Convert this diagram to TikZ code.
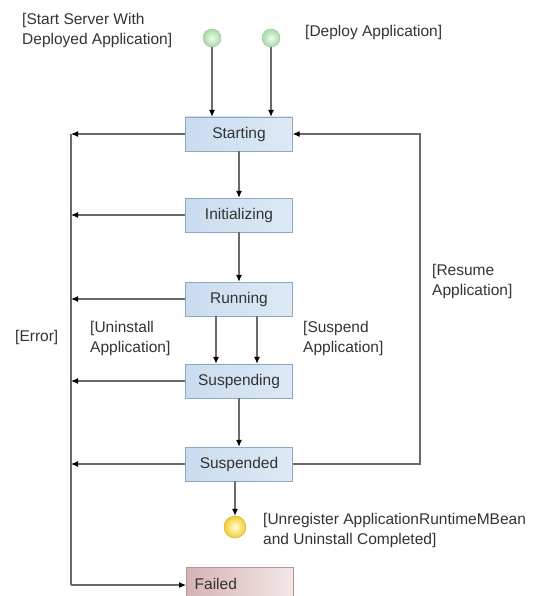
\documentclass[tikz,border=0pt]{standalone}
\usepackage{fontspec}
\setmainfont{Liberation Sans}
\usetikzlibrary{arrows.meta}

\tikzset{
  state/.style={draw=boxBorder, left color=boxLeft, right color=boxRight, text=textGrey,
    minimum width=107pt, minimum height=34pt, inner sep=0pt, font=\fontsize{15.5}{18}\selectfont},
  failstate/.style={state, draw=failBorder, left color=failLeft, right color=failRight, align=left, text width=90pt},
  startdot/.style={circle, minimum size=18pt, inner sep=0pt, draw=dotGreenEdge, inner color=green!8, outer color=dotGreen},
  enddot/.style={circle, minimum size=22pt, inner sep=0pt, draw=dotYellowEdge, inner color=yellow!15, outer color=dotYellow},
  flow/.style={draw=lineGrey, line width=1.1pt, -{Latex[length=7pt,width=6pt,black]}},
  guard/.style={align=left, font=\fontsize{15.5}{20}\selectfont, text=textGrey, inner sep=0pt, anchor=base west}
}

\begin{document}
\begin{tikzpicture}[x=1pt, y=-1pt]
    % Define colours
    \definecolor{boxBorder}{HTML}{8FA8C2}
    \definecolor{boxLeft}{HTML}{C9DCEF}
    \definecolor{boxRight}{HTML}{DDE9F5}
    \definecolor{failBorder}{HTML}{B89496}
    \definecolor{failLeft}{HTML}{D6B3B5}
    \definecolor{failRight}{HTML}{F3E8E8}
    \definecolor{dotGreen}{HTML}{A9D8A9}
    \definecolor{dotGreenEdge}{HTML}{9CC29C}
    \definecolor{dotYellow}{HTML}{F2CC2E}
    \definecolor{dotYellowEdge}{HTML}{C9A62A}
    \definecolor{lineGrey}{HTML}{6A6A6A}
    \definecolor{textGrey}{HTML}{333333}

    % Define x positions of the side lines
    \def\errorX{71}
    \def\resumeX{420}

    \useasboundingbox (0,0) rectangle (537,596);

    % Draw states
    \node[state] (starting) at (239,134) {Starting};
    \node[state] (initializing) at (239,215) {Initializing};
    \node[state] (running) at (239,299) {Running};
    \node[state] (suspending) at (239,381) {Suspending};
    \node[state] (suspended) at (239,464) {Suspended};
    \node[failstate, anchor=north west] (failed) at (186,567) {Failed};

    % Draw start and end points
    \node[startdot] (deployedstart) at (212,38) {};
    \node[startdot] (deploystart) at (271,38) {};
    \node[enddot] (uninstalled) at (235,527) {};

    % Draw main flow
    \draw[flow] (deployedstart) -- (deployedstart |- starting.north);
    \draw[flow] (deploystart) -- (deploystart |- starting.north);
    \draw[flow] (starting) -- (initializing);
    \draw[flow] (initializing) -- (running);
    \draw[flow] ([xshift=-23pt]running.south) -- ([xshift=-23pt]suspending.north);
    \draw[flow] ([xshift=18pt]running.south) -- ([xshift=18pt]suspending.north);
    \draw[flow] (suspending) -- (suspending |- suspended.north);
    \draw[flow] (suspended.south -| uninstalled) -- (uninstalled);

    % Draw resume line
    \coordinate (resumecorner) at (\resumeX,134);
    \draw[flow] (suspended.east) -| (resumecorner) -- (starting.east);

    % Draw error lines
    \coordinate (errortop) at (\errorX,134);
    \coordinate (errorbottom) at (\errorX,585);
    \draw[draw=lineGrey, line width=1.1pt] (errortop) -- (errorbottom);
    \draw[flow] (errorbottom) -- (errorbottom -| failed.west);
    \foreach \s in {starting,initializing,running,suspending,suspended}
        \draw[flow] (\s.west) -- (\s.west -| errortop);

    % Label the transitions
    \node[guard] (startlabel) at (22,45) {[Start Server With\\Deployed Application]};
    \node[guard] (deploylabel) at (305,37) {[Deploy Application]};
    \node[guard] (resumelabel) at (432,295) {[Resume\\Application]};
    \node[guard] (errorlabel) at (15,341) {[Error]};
    \node[guard] (uninstalllabel) at (90,352) {[Uninstall\\Application]};
    \node[guard] (suspendlabel) at (303,352) {[Suspend\\Application]};
    \node[guard] (unregisterlabel) at (263,544) {[Unregister ApplicationRuntimeMBean\\and Uninstall Completed]};

\end{tikzpicture}
\end{document}
